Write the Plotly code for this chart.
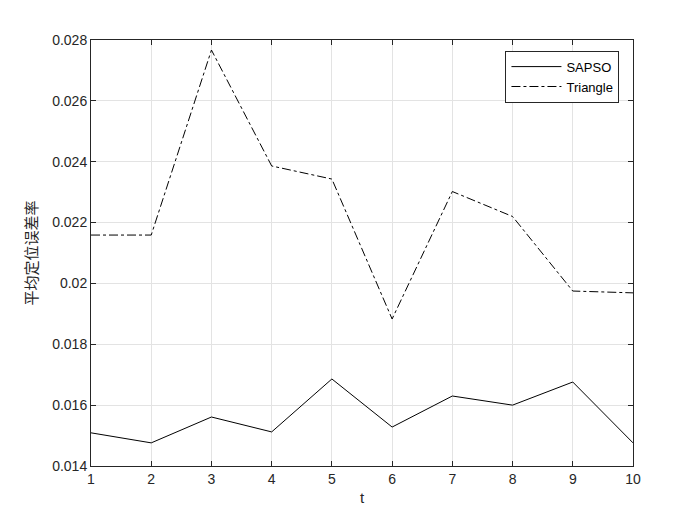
import plotly.graph_objects as go

t = [1, 2, 3, 4, 5, 6, 7, 8, 9, 10]
sapso = [0.01509, 0.01476, 0.01561, 0.01512, 0.01686, 0.01528, 0.01630, 0.01600, 0.01676, 0.01476]
triangle = [0.02159, 0.02159, 0.02767, 0.02386, 0.02343, 0.01883, 0.02302, 0.02220, 0.01975, 0.01969]
y_ticks = [0.014, 0.016, 0.018, 0.02, 0.022, 0.024, 0.026, 0.028]
y_labels = ['0.014', '0.016', '0.018', '0.02', '0.022', '0.024', '0.026', '0.028']

fig = go.Figure()
fig.add_trace(go.Scatter(x=t, y=sapso, mode='lines', name='SAPSO',
                         line=dict(color='black', width=1)))
fig.add_trace(go.Scatter(x=t, y=triangle, mode='lines', name='Triangle',
                         line=dict(color='black', width=1, dash='dashdot')))

axis_common = dict(showline=True, linecolor='#262626', linewidth=1, mirror='ticks',
                   ticks='inside', ticklen=5, tickcolor='#262626',
                   showgrid=True, gridcolor='#e3e3e3', zeroline=False,
                   tickfont=dict(family='Liberation Sans', size=14, color='#262626'))

fig.update_layout(
    width=700, height=525,
    margin=dict(l=83, r=75, t=32, b=67),
    paper_bgcolor='white', plot_bgcolor='white',
    xaxis=dict(range=[1, 10], tickvals=t,
               title=dict(text='t', standoff=6,
                          font=dict(family='Liberation Sans', size=15, color='#262626')),
               **axis_common),
    yaxis=dict(range=[0.014, 0.028], tickvals=y_ticks, ticktext=y_labels,
               title=dict(text='平均定位误差率', standoff=10,
                          font=dict(family='Noto Sans CJK SC', size=15, color='#262626')),
               **axis_common),
    legend=dict(x=0.975, y=0.975, xanchor='right', yanchor='top',
                bordercolor='#262626', borderwidth=1, bgcolor='white',
                font=dict(family='Liberation Sans', size=13, color='black'),
                itemwidth=50, tracegroupgap=0),
    showlegend=True,
)

fig.write_html("out.html")
